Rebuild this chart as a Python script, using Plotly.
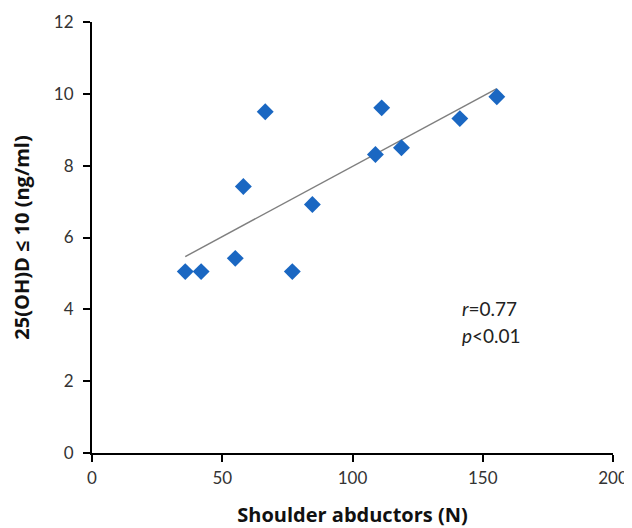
import numpy as np
import plotly.graph_objects as go

# Data
shoulder_abductors = [35.8, 41.9, 55.0, 58.1, 66.5, 76.9, 84.6, 108.8, 111.2, 118.8, 141.2, 155.4]
vitamin_d = [5.05, 5.05, 5.42, 7.42, 9.5, 5.05, 6.92, 8.31, 9.61, 8.5, 9.31, 9.92]
x_ticks = [0, 50, 100, 150, 200]
y_ticks = [0, 2, 4, 6, 8, 10, 12]
stat_text = ["<i>r</i>=0.77", "<i>p</i><0.01"]

xs = np.array(shoulder_abductors)
ys = np.array(vitamin_d)
slope, intercept = np.polyfit(xs, ys, 1)
line_x = [xs.min(), xs.max()]
line_y = [slope * v + intercept for v in line_x]

fig = go.Figure()
fig.add_trace(go.Scatter(
    x=line_x, y=line_y, mode="lines",
    line=dict(color="#7f7f7f", width=1.5), hoverinfo="skip", showlegend=False))
fig.add_trace(go.Scatter(
    x=shoulder_abductors, y=vitamin_d, mode="markers",
    marker=dict(symbol="diamond", size=13, color="#1A67C2", line=dict(width=0)),
    showlegend=False))

ann_font = dict(family="Lato, Open Sans, sans-serif", size=19, color="#222")
fig.add_annotation(x=141.2, y=4.02, xref="x", yref="y", text=stat_text[0],
                   showarrow=False, xanchor="left", yanchor="middle", font=ann_font)
fig.add_annotation(x=141.2, y=3.27, xref="x", yref="y", text=stat_text[1],
                   showarrow=False, xanchor="left", yanchor="middle", font=ann_font)

axis_font = dict(family="Lato, Open Sans, sans-serif", size=17, color="#333")
title_font = dict(family="Open Sans, sans-serif", size=20, color="#111")

# page body has an 8px default margin, so the figure is sized/offset to compensate
fig.update_layout(
    width=624, height=520,
    margin=dict(l=84, r=19, t=14, b=75, autoexpand=False),
    paper_bgcolor="white", plot_bgcolor="white",
    xaxis=dict(range=[0, 200], tickvals=x_ticks, showgrid=False, zeroline=False,
               showline=True, linecolor="black", linewidth=2,
               ticks="outside", ticklen=7, tickwidth=1.5, tickcolor="black",
               tickfont=axis_font, ticklabelstandoff=2,
               title=dict(text="<b>Shoulder abductors (N)</b>", font=title_font, standoff=24)),
    yaxis=dict(range=[0, 12], tickvals=y_ticks, showgrid=False, zeroline=False,
               showline=True, linecolor="black", linewidth=2,
               ticks="outside", ticklen=7, tickwidth=1.5, tickcolor="black",
               tickfont=axis_font, ticklabelstandoff=6,
               title=dict(text="<b>25(OH)D ≤ 10 (ng/ml)</b>", font=title_font, standoff=19)),
)

fig.write_html("out.html")
